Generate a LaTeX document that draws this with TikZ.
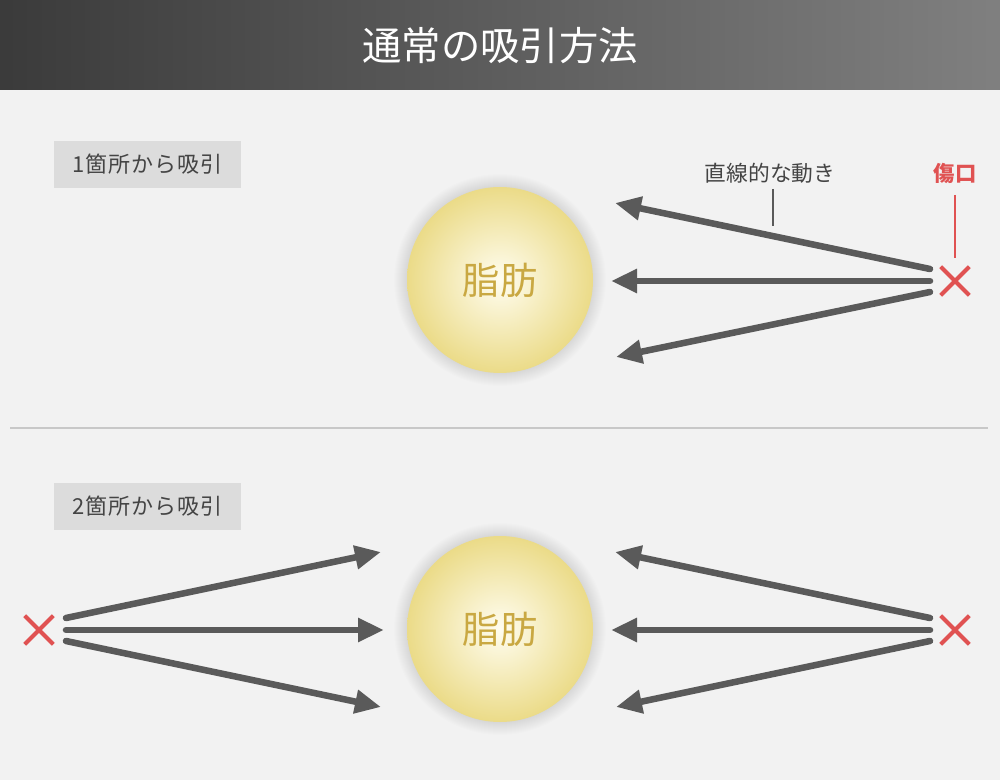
\documentclass[tikz,border=0pt]{standalone}
\usepackage{fontspec}
\newfontfamily\jp{Noto Sans CJK JP}
\newfontfamily\jpl[LetterSpace=5]{Noto Sans CJK JP}
\usetikzlibrary{arrows.meta}
\definecolor{bgc}{HTML}{F2F2F2}
\definecolor{boxc}{HTML}{DCDCDC}
\definecolor{txtc}{HTML}{444444}
\definecolor{arrc}{HTML}{5A5A5A}
\definecolor{redc}{HTML}{E05252}
\definecolor{fatc}{HTML}{C9A842}
\definecolor{fatin}{HTML}{FFFDF0}
\definecolor{fatout}{HTML}{EBDB88}
\definecolor{sepc}{HTML}{C8C8C8}
\begin{document}
\begin{tikzpicture}[x=0.75pt,y=-0.75pt,
  arr/.style={draw=arrc, line width=4.9pt, line cap=round, -{Triangle[length=19.5pt,width=17pt]}},
  lbox/.style={fill=boxc, minimum width=140.25pt, minimum height=35.25pt, inner sep=0pt, text=txtc, font=\jpl\fontsize{16.5}{16.5}\selectfont},
  fat/.style={circle, minimum size=139.5pt, inner sep=0pt, inner color=fatin, outer color=fatout, text=fatc, font=\jp\fontsize{28}{28}\selectfont},
  xmark/.style={minimum size=21pt, inner sep=0pt},
  xline/.style={draw=redc, line width=3pt}
]
\useasboundingbox (0,0) rectangle (1000,780);
\fill[bgc] (0,0) rectangle (1000,780);
% title bar
\shade[left color=black!77, right color=black!50] (0,0) rectangle (1000,90);
\node[text=white, font=\jp\fontsize{29.5}{29.5}\selectfont] (title) at (500,46) {通常の吸引方法};
% separator
\coordinate (sepL) at (10,428);
\coordinate (sepR) at (988,428);
\draw[sepc, line width=0.9pt] (sepL) -- (sepR);
% labels
\node[lbox] (lab1) at (147.5,164.5) {1箇所から吸引};
\node[lbox] (lab2) at (147.5,506.5) {2箇所から吸引};
% circles with soft shadow
\foreach \cy in {280,629}{
  \foreach \k in {1,...,14}{
    \fill[black, opacity=0.006] (500,\cy) circle[radius=69pt+\k*0.75pt];
  }
}
\node[fat] (fat1) at (500,280) {脂肪};
\node[fat] (fat2) at (500,629) {脂肪};
% top: right wound
\node[xmark] (x1) at (955,281) {};
\draw[xline] (x1.north west) -- (x1.south east);
\draw[xline] (x1.north east) -- (x1.south west);
\node[text=redc, font=\jp\bfseries\fontsize{16}{16}\selectfont] (wound) at (955,173) {傷口};
\coordinate (wl1) at (955,195);
\coordinate (wl2) at (955,258);
\draw[redc, line width=1pt] (wl1) -- (wl2);
\node[text=txtc, font=\jp\fontsize{16.3}{16.3}\selectfont] (move) at (770,173) {直線的な動き};
\coordinate (ml1) at (773,189);
\coordinate (ml2) at (773,226);
\draw[arrc, line width=1pt] (ml1) -- (ml2);
\coordinate (a1s) at (930,269); \coordinate (a1t) at (615,203);
\coordinate (a2s) at (930,281); \coordinate (a2t) at (611,281);
\coordinate (a3s) at (930,292); \coordinate (a3t) at (616,357);
\draw[arr] (a1s) -- (a1t);
\draw[arr] (a2s) -- (a2t);
\draw[arr] (a3s) -- (a3t);
% bottom: left wound
\node[xmark] (x2) at (39,630) {};
\draw[xline] (x2.north west) -- (x2.south east);
\draw[xline] (x2.north east) -- (x2.south west);
\coordinate (b1s) at (66,618); \coordinate (b1t) at (381,552);
\coordinate (b2s) at (66,630); \coordinate (b2t) at (384,630);
\coordinate (b3s) at (66,641); \coordinate (b3t) at (381,707);
\draw[arr] (b1s) -- (b1t);
\draw[arr] (b2s) -- (b2t);
\draw[arr] (b3s) -- (b3t);
% bottom: right wound
\node[xmark] (x3) at (955,630) {};
\draw[xline] (x3.north west) -- (x3.south east);
\draw[xline] (x3.north east) -- (x3.south west);
\coordinate (c1s) at (930,618); \coordinate (c1t) at (615,552);
\coordinate (c2s) at (930,630); \coordinate (c2t) at (611,630);
\coordinate (c3s) at (930,641); \coordinate (c3t) at (616,707);
\draw[arr] (c1s) -- (c1t);
\draw[arr] (c2s) -- (c2t);
\draw[arr] (c3s) -- (c3t);
\end{tikzpicture}
\end{document}
